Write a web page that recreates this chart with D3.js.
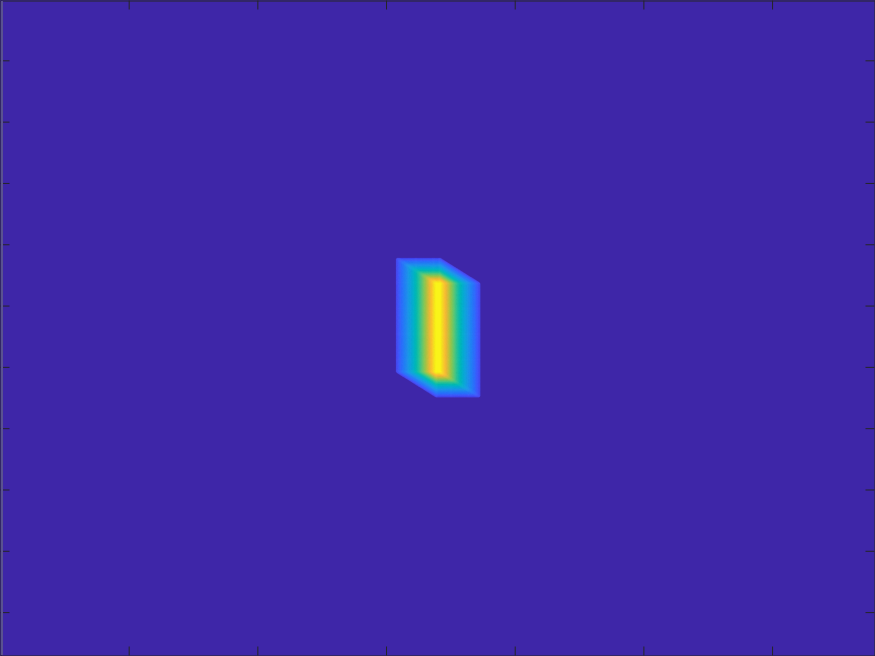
<!DOCTYPE html>
<html>
<head>
<meta charset="utf-8">
<script src="https://cdn.jsdelivr.net/npm/d3@7"></script>
<style>
  html, body { margin: 0; padding: 0; background: #fff; overflow: hidden; }
  svg { display: block; }
</style>
</head>
<body>
<div id="chart"></div>
<script>
// ---------------- data ----------------
const xDomain = [0, 68];
const yDomain = [0.08, 53.58];
const xTicks = [10, 20, 30, 40, 50, 60];
const yTicks = [5, 10, 15, 20, 25, 30, 35, 40, 45, 50];
// box object (data units) and the oblique projection (sweep) vector
const boxX = [30.77, 34.19];
const boxY = [21.12, 30.42];
const sweep = [3.11, 2.04];
// lowest non-zero colour level (fraction of colour range) at the object edge
const edgeLevel = 0.13;
// parula colour map stops
const parulaStops = [0, 0.075, 0.153, 0.196, 0.25, 0.314, 0.376, 0.439, 0.502, 0.564, 0.627, 0.69, 0.752, 0.815, 0.865, 0.91, 0.95, 1];
const parulaColors = [
  [62, 38, 168], [70, 58, 220], [71, 80, 244], [68, 93, 252], [51, 111, 253],
  [39, 129, 246], [36, 147, 238], [24, 163, 225], [10, 176, 209], [5, 187, 183],
  [39, 195, 157], [89, 201, 124], [141, 201, 88], [196, 194, 64], [238, 186, 60],
  [252, 198, 50], [247, 222, 40], [249, 248, 22]
];

// ---------------- layout ----------------
const W = 875, H = 656;
const x = d3.scaleLinear().domain(xDomain).range([0, W]);
const y = d3.scaleLinear().domain(yDomain).range([0, H]);
const parula = d3.scaleLinear().domain(parulaStops)
  .range(parulaColors.map(c => d3.rgb(c[0], c[1], c[2]).toString()))
  .interpolate(d3.interpolateRgb).clamp(true);

const svg = d3.select("#chart").append("svg").attr("width", W).attr("height", H);

// background (image minimum)
svg.append("rect")
  .attr("x", x(xDomain[0])).attr("y", y(yDomain[0]))
  .attr("width", x(xDomain[1]) - x(xDomain[0]))
  .attr("height", y(yDomain[1]) - y(yDomain[0]))
  .attr("fill", parula(0));

// projection image: path length through the box along the sweep direction
const step = 0.04;
const gx0 = boxX[0] - 1, gx1 = boxX[1] + sweep[0] + 1;
const gy0 = boxY[0] - 1, gy1 = boxY[1] + sweep[1] + 1;
const nx = Math.round((gx1 - gx0) / step) + 1;
const ny = Math.round((gy1 - gy0) / step) + 1;
function pathLength(px, py) {
  let lo = 0, hi = 1;
  hi = Math.min(hi, (px - boxX[0]) / sweep[0], (py - boxY[0]) / sweep[1]);
  lo = Math.max(lo, (px - boxX[1]) / sweep[0], (py - boxY[1]) / sweep[1]);
  return Math.max(0, hi - lo);
}
const grid = new Float64Array(nx * ny);
for (let j = 0; j < ny; j++) {
  for (let i = 0; i < nx; i++) {
    const L = pathLength(gx0 + i * step, gy0 + j * step);
    grid[j * nx + i] = L > 0 ? edgeLevel + (1 - edgeLevel) * L : 0;
  }
}
// slight smoothing, as in the interpolated rendering of the original image
if (d3.blur2) d3.blur2({data: grid, width: nx, height: ny}, 1);

const N = 56;
const thresholds = [0.06].concat(d3.range(1, N).map(k => edgeLevel + (1 - edgeLevel) * k / N));
const contours = d3.contours().size([nx, ny]).thresholds(thresholds)(grid);
const proj = d3.geoTransform({
  point: function (cx, cy) {
    this.stream.point(x(gx0 + (cx - 0.5) * step), y(gy0 + (cy - 0.5) * step));
  }
});
const path = d3.geoPath(proj);
const bandColor = (d, k) => parula(edgeLevel + (1 - edgeLevel) * ((k + 0.5) / N));
svg.append("g").selectAll("path").data(contours).join("path")
  .attr("d", path)
  .attr("fill", bandColor)
  .attr("stroke", bandColor)
  .attr("stroke-width", 0.3);

// ---------------- axes (box with inward ticks, no labels) ----------------
const axisColor = "#262626";
function styleAxis(g) {
  g.selectAll("path.domain").attr("stroke", axisColor).attr("stroke-width", 1);
  g.selectAll(".tick line").attr("stroke", axisColor).attr("stroke-width", 1);
  g.selectAll(".tick text").remove();
}
svg.append("g").attr("transform", "translate(0,0.5)")
  .call(d3.axisBottom(x).tickValues(xTicks).tickSizeInner(9).tickSizeOuter(0).tickFormat(""))
  .call(styleAxis);
svg.append("g").attr("transform", `translate(0,${H - 0.5})`)
  .call(d3.axisTop(x).tickValues(xTicks).tickSizeInner(9).tickSizeOuter(0).tickFormat(""))
  .call(styleAxis);
svg.append("g").attr("transform", "translate(0.5,0)")
  .call(d3.axisRight(y).tickValues(yTicks).tickSizeInner(9).tickSizeOuter(0).tickFormat(""))
  .call(styleAxis);
svg.append("g").attr("transform", `translate(${W - 0.5},0)`)
  .call(d3.axisLeft(y).tickValues(yTicks).tickSizeInner(9).tickSizeOuter(0).tickFormat(""))
  .call(styleAxis);
// faint grey edge just inside the left border
svg.append("rect").attr("x", 1).attr("y", 1).attr("width", 2).attr("height", H - 2)
  .attr("fill", "#5a5290");
</script>
</body>
</html>
